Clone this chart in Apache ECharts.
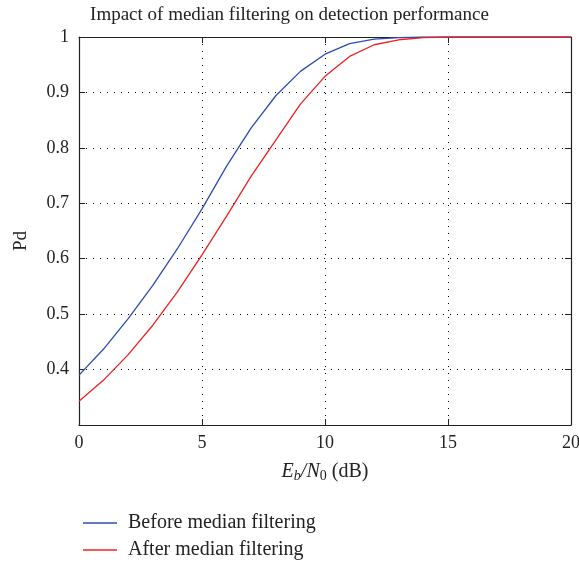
<!DOCTYPE html>
<html>
<head>
<meta charset="utf-8">
<script src="https://cdn.jsdelivr.net/npm/echarts@6/dist/echarts.min.js"></script>
<style>html,body{margin:0;padding:0;background:#fff;}#c{width:579px;height:562px;}</style>
</head>
<body>
<div id="c"></div>
<script>
const ebn0 = [0,1,2,3,4,5,6,7,8,9,10,11,12,13,14,15,16,17,18,19,20];
const before = [0.390,0.437,0.492,0.552,0.618,0.690,0.767,0.836,0.894,0.938,0.969,0.988,0.996,0.999,1,1,1,1,1,1,1];
const after  = [0.343,0.381,0.427,0.480,0.540,0.607,0.677,0.749,0.814,0.879,0.929,0.965,0.986,0.995,0.999,1,1,1,1,1,1];
const seriesNames = ['Before median filtering','After median filtering'];
const titleText = 'Impact of median filtering on detection performance';

const font = 'Liberation Serif';
const chart = echarts.init(document.getElementById('c'));
const gridStyle = {show:true, lineStyle:{color:'#000', type:[1,6], width:1}};
const legendBase = {
  orient:'vertical', left:78, itemWidth:34, itemHeight:10,
  icon:'path://M0,0 L34,0 L34,1.5 L0,1.5 Z',
  textStyle:{fontFamily:font, fontSize:20, color:'#222', padding:[0,0,0,6]}
};
chart.setOption({
  animation:false,
  backgroundColor:'#fff',
  title:{text:titleText, left:'center', top:1, textStyle:{fontFamily:font, fontSize:19, fontWeight:'normal', color:'#222'}},
  legend:[
    Object.assign({}, legendBase, {top:508, data:[seriesNames[0]]}),
    Object.assign({}, legendBase, {top:535, data:[seriesNames[1]]})
  ],
  grid:{left:79, right:8, top:37, bottom:137, containLabel:false, outerBoundsMode:'none'},
  xAxis:[{
    type:'value', min:0, max:20, interval:5,
    axisLine:{onZero:false, lineStyle:{color:'#222', width:1.2}},
    axisTick:{inside:true, length:6, lineStyle:{color:'#222'}},
    axisLabel:{fontFamily:font, fontSize:18, color:'#222', margin:9},
    splitLine:gridStyle,
    name:'{i|E}{s|b}{i|/N}{s0|0}{n| (dB)}', nameLocation:'middle', nameGap:36,
    nameTextStyle:{rich:{
      i:{fontFamily:font, fontSize:20, fontStyle:'italic', color:'#222'},
      s:{fontFamily:font, fontSize:14, fontStyle:'italic', color:'#222', verticalAlign:'bottom', padding:[8,0,0,0]},
      s0:{fontFamily:font, fontSize:14, color:'#222', verticalAlign:'bottom', padding:[8,0,0,0]},
      n:{fontFamily:font, fontSize:20, color:'#222'}
    }}
  },{
    type:'value', min:0, max:20, interval:5, position:'top',
    axisLine:{show:true, onZero:false, lineStyle:{color:'#222', width:1.2}},
    axisTick:{show:true, inside:true, length:6, lineStyle:{color:'#222'}},
    axisLabel:{show:false}, splitLine:{show:false}
  }],
  yAxis:[{
    type:'value', min:0.3, max:1, interval:0.1,
    axisLine:{show:true, onZero:false, lineStyle:{color:'#222', width:1.2}},
    axisTick:{show:true, inside:true, length:6, lineStyle:{color:'#222'}},
    axisLabel:{fontFamily:font, fontSize:18, color:'#222', margin:10,
      formatter:function(v){ return Math.abs(v-0.3)<1e-9 ? '' : (Math.round(v*10)/10).toString(); }},
    splitLine:gridStyle,
    name:'Pd', nameLocation:'middle', nameGap:48,
    nameTextStyle:{fontFamily:font, fontSize:19, color:'#222', padding:[0,20,0,0]}
  },{
    type:'value', min:0.3, max:1, interval:0.1, position:'right',
    axisLine:{show:true, onZero:false, lineStyle:{color:'#222', width:1.2}},
    axisTick:{show:true, inside:true, length:6, lineStyle:{color:'#222'}},
    axisLabel:{show:false}, splitLine:{show:false}
  }],
  series:[
    {name:seriesNames[0], type:'line', data:ebn0.map((x,i)=>[x,before[i]]), showSymbol:false, symbol:'none',
     lineStyle:{color:'#2b4eb0', width:1.3}, itemStyle:{color:'#2b4eb0'}},
    {name:seriesNames[1], type:'line', data:ebn0.map((x,i)=>[x,after[i]]), showSymbol:false, symbol:'none',
     lineStyle:{color:'#f02020', width:1.3}, itemStyle:{color:'#f02020'}}
  ]
});
</script>
</body>
</html>
